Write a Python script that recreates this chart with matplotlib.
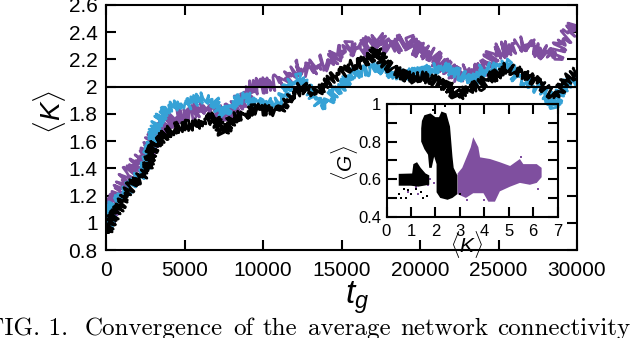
import numpy as np
import matplotlib.pyplot as plt
from matplotlib.ticker import MultipleLocator, FuncFormatter

plt.rcParams['font.family'] = ['Liberation Sans', 'DejaVu Sans']
plt.rcParams['mathtext.fontset'] = 'custom'
plt.rcParams['mathtext.it'] = 'Liberation Sans:italic'
plt.rcParams['mathtext.rm'] = 'Liberation Sans'

# main panel: <K> vs t_g, three runs
t_black = [0, 470, 890, 1320, 1740, 2170, 2590, 2800, 3120, 3440, 3870, 4290, 4710, 5140,
           5560, 5990, 6410, 6840, 7260, 7450, 8110, 8750, 9380, 9810, 10450, 10980, 11400,
           11830, 12250, 12460, 12780, 13310, 13840, 14270, 14690, 15120, 15540, 16180, 16820,
           17240, 17660, 18300, 18940, 19570, 20210, 20740, 21270, 21910, 22340, 22760, 23180,
           23820, 24250, 24880, 25520, 26050, 26580, 27110, 27640, 28170, 28600, 28920, 29340,
           29870, 30000]
k_black = [0.93, 1.045, 1.12, 1.22, 1.30, 1.33, 1.39, 1.49, 1.585, 1.61, 1.66, 1.69, 1.705, 1.72,
           1.71, 1.73, 1.755, 1.77, 1.705, 1.66, 1.77, 1.79, 1.84, 1.83, 1.83, 1.815, 1.89,
           1.95, 1.965, 2.01, 1.975, 1.95, 2.01, 2.05, 2.085, 2.11, 2.16, 2.17, 2.21,
           2.27, 2.18, 2.12, 2.085, 2.06, 2.07, 2.06, 2.025, 1.99, 1.93, 1.96, 1.99,
           2.01, 2.06, 2.085, 2.15, 2.11, 2.10, 2.06, 2.025, 1.965, 1.93, 1.975, 2.05,
           2.10, 2.11]

t_cyan = [0, 470, 890, 1320, 1740, 2380, 2800, 3120, 3440, 3870, 4290, 4710, 5140, 5560, 5990,
          6410, 6840, 7260, 7580, 8110, 8530, 9170, 9490, 10020, 10660, 11190, 11610, 12250,
          12570, 13000, 13630, 14060, 14590, 15120, 15540, 16180, 16820, 17350, 17880, 18420,
          18940, 19570, 20210, 20850, 21480, 22120, 22760, 23180, 23820, 24030, 24670, 25200,
          25620, 26150, 26680, 27210, 27740, 28170, 28550, 28920, 29340, 29870, 30000]
k_cyan = [0.935, 1.145, 1.18, 1.24, 1.30, 1.375, 1.535, 1.705, 1.77, 1.84, 1.855, 1.865, 1.865,
          1.89, 1.915, 1.925, 1.90, 1.83, 1.80, 1.89, 1.915, 1.915, 1.855, 1.90, 1.89, 1.915,
          2.01, 2.06, 2.05, 1.965, 1.87, 1.88, 1.965, 2.01, 2.085, 2.11, 2.12, 2.15, 2.11,
          2.085, 2.085, 2.10, 2.11, 2.13, 2.15, 2.11, 2.075, 2.04, 2.075, 2.15, 2.13, 2.16,
          2.17, 2.06, 2.04, 2.00, 1.975, 1.93, 1.855, 1.965, 2.025, 2.04, 2.04]

t_purple = [0, 470, 890, 1320, 1740, 2170, 2590, 3010, 3440, 3870, 4290, 4710, 5140, 5560, 5990,
            6410, 6840, 7260, 7580, 8110, 8640, 8900, 8960, 9380, 10020, 10660, 11190, 11720,
            12360, 12890, 13420, 13840, 14270, 14690, 15120, 15540, 16180, 16820, 17240, 17660,
            18200, 18720, 19150, 19570, 20210, 20850, 21270, 21910, 22440, 22760, 23180, 23820,
            24250, 24670, 25200, 25730, 26260, 26680, 27210, 27740, 28270, 28600, 28920, 29340,
            29770, 30000]
k_purple = [1.01, 1.13, 1.24, 1.35, 1.40, 1.475, 1.52, 1.61, 1.68, 1.74, 1.78, 1.79, 1.80, 1.80,
            1.84, 1.855, 1.83, 1.79, 1.77, 1.855, 1.90, 1.90, 2.00, 2.00, 2.01, 2.025, 2.04,
            2.11, 2.15, 2.125, 2.16, 2.18, 2.17, 2.245, 2.245, 2.29, 2.27, 2.32, 2.355, 2.31,
            2.28, 2.32, 2.345, 2.29, 2.26, 2.22, 2.18, 2.12, 2.085, 2.10, 2.12, 2.12, 2.15,
            2.245, 2.27, 2.28, 2.31, 2.32, 2.28, 2.27, 2.22, 2.21, 2.32, 2.37, 2.415, 2.47]

k_ref = 2.0

# inset: <G> vs <K>, outlines of the dense point clouds
black_cloud_a = [(0.5, 0.565), (0.5, 0.628), (1.05, 0.63), (1.1, 0.68), (1.25, 0.69), (1.4, 0.66),
                 (1.6, 0.63), (1.75, 0.62), (1.75, 0.57), (1.3, 0.56), (1.0, 0.565)]
black_cloud_b = [(1.45, 0.91), (1.55, 0.94), (1.8, 0.95), (2.0, 0.93), (2.15, 0.93), (2.25, 0.96),
                 (2.45, 0.95), (2.6, 0.88), (2.65, 0.80), (2.7, 0.72), (2.75, 0.66), (2.9, 0.62),
                 (2.9, 0.52), (2.7, 0.50), (2.5, 0.49), (2.2, 0.50), (2.05, 0.53), (2.05, 0.68),
                 (1.95, 0.72), (1.85, 0.66), (1.75, 0.66), (1.7, 0.73), (1.55, 0.76), (1.42, 0.80),
                 (1.42, 0.87)]
purple_cloud = [(2.91, 0.63), (3.1, 0.66), (3.45, 0.77), (3.55, 0.823), (3.76, 0.77), (3.83, 0.716),
                (4.24, 0.707), (4.64, 0.69), (5.06, 0.67), (5.46, 0.707), (5.6, 0.68), (6.15, 0.68),
                (6.35, 0.66), (6.35, 0.61), (6.15, 0.58), (5.87, 0.57), (5.46, 0.58), (5.06, 0.56),
                (4.64, 0.535), (4.44, 0.48), (4.17, 0.48), (3.97, 0.525), (3.55, 0.525),
                (3.25, 0.50), (2.91, 0.52)]
black_pts_x = [0.5, 0.6, 0.8, 1.0, 1.2, 0.7, 1.5, 2.0, 2.4, 1.9, 3.0, 0.9, 1.4, 1.65]
black_pts_y = [0.52, 0.50, 0.50, 0.52, 0.55, 0.55, 0.50, 0.98, 0.99, 0.97, 0.52, 0.54, 0.53, 0.51]
purple_pts_x = [1.2, 1.4, 1.6, 1.8, 1.95, 2.1, 2.3, 2.45, 2.6, 2.2, 1.3, 3.1, 3.3, 4.0, 4.4, 0.9,
                1.7, 2.35, 5.5, 6.2]
purple_pts_y = [0.56, 0.58, 0.62, 0.60, 0.58, 0.55, 0.52, 0.50, 0.53, 0.60, 0.52, 0.53, 0.49,
                0.49, 0.50, 0.53, 0.57, 0.57, 0.72, 0.55]

# caption words (justified line, cut at both edges)
caption_words = ['FIG. 1.', 'Convergence', 'of', 'the', 'average', 'network', 'connectivity']

purple = '#7f4f9f'
cyan = '#36a2d6'

W, H = 632, 338
fig = plt.figure(figsize=(W / 100, H / 100), dpi=100)

ax = fig.add_axes([106 / W, 1 - 250 / H, 471 / W, 245 / H])
# thin line with a dense jitter so each run shows as a noisy band
for t, k, c, amp in [(t_purple, k_purple, purple, 8), (t_cyan, k_cyan, cyan, 5.5),
                     (t_black, k_black, 'black', 5.5)]:
    ln, = ax.plot(t, k, color=c, lw=2, solid_joinstyle='round', solid_capstyle='butt')
    ln.set_sketch_params(scale=amp, length=1.2, randomness=2)
ax.axhline(k_ref, color='black', lw=1.5)
ax.set_xlim(0, 30000)
ax.set_ylim(0.8, 2.6)
ax.xaxis.set_major_locator(MultipleLocator(5000))
ax.yaxis.set_major_locator(MultipleLocator(0.2))
ax.yaxis.set_major_formatter(FuncFormatter(lambda v, p: '%g' % round(v, 2)))
ax.tick_params(direction='in', top=True, right=True, length=7, width=1.5, labelsize=15)
ax.tick_params(axis='x', pad=8)
ax.tick_params(axis='y', pad=6)
for s in ax.spines.values():
    s.set_linewidth(1.5)

ins = fig.add_axes([386.5 / W, 1 - 216.7 / H, 171 / W, 112.7 / H])
ins.patch.set_alpha(0)
ins.fill(*zip(*purple_cloud), color=purple, lw=0)
ins.scatter(purple_pts_x, purple_pts_y, s=3, marker='s', color=purple, lw=0)
ins.fill(*zip(*black_cloud_a), color='black', lw=0)
ins.fill(*zip(*black_cloud_b), color='black', lw=0)
ins.scatter(black_pts_x, black_pts_y, s=3, marker='s', color='black', lw=0)
ins.set_xlim(0, 7)
ins.set_ylim(0.4, 1.0)
ins.xaxis.set_major_locator(MultipleLocator(1))
ins.yaxis.set_major_locator(MultipleLocator(0.2))
ins.yaxis.set_minor_locator(MultipleLocator(0.1))
ins.yaxis.set_major_formatter(FuncFormatter(lambda v, p: '%g' % round(v, 2)))
ins.tick_params(which='both', direction='in', top=True, right=True, length=7, width=1.5,
                labelsize=12)
ins.tick_params(axis='x', pad=5)
ins.tick_params(axis='y', pad=4)
for s in ins.spines.values():
    s.set_linewidth(1.5)

fig.text(50 / W, 1 - 112 / H, r'$\langle K\rangle$', rotation=90, fontsize=20,
         ha='center', va='center')
fig.text(357 / W, 1 - 298 / H, r'$t_g$', fontsize=24, ha='center', va='center')
fig.text(467 / W, 1 - 245 / H, r'$\langle K\rangle$', fontsize=15, ha='center', va='center')
fig.text(345 / W, 1 - 163 / H, r'$\langle G\rangle$', rotation=90, fontsize=15,
         ha='center', va='center')

for word, x0 in zip(caption_words, [-12, 85, 233, 263, 308, 400, 497]):
    fig.text(x0 / W, 3 / H, word, family='cmr10', fontsize=18, va='baseline')

fig.savefig('out.png', dpi=100)
